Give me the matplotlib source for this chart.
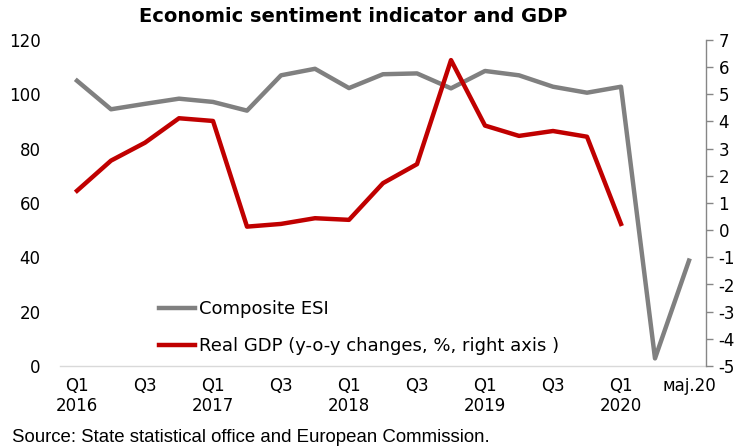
"""Economic sentiment indicator and real GDP, quarterly with monthly 2020 tail."""

import matplotlib.pyplot as plt

# category labels on the x axis (only every second one is shown)
periods = [
    "Q1 2016", "Q2 2016", "Q3 2016", "Q4 2016",
    "Q1 2017", "Q2 2017", "Q3 2017", "Q4 2017",
    "Q1 2018", "Q2 2018", "Q3 2018", "Q4 2018",
    "Q1 2019", "Q2 2019", "Q3 2019", "Q4 2019",
    "Q1 2020", "apr.20", "maj.20",
]
tick_labels = [
    "Q1\n2016", "Q3", "Q1\n2017", "Q3", "Q1\n2018",
    "Q3", "Q1\n2019", "Q3", "Q1\n2020", "\u043c\u0430\u0458.20",
]

# composite ESI (left axis)
esi = [
    105.0, 94.5, 96.5, 98.4, 97.2, 94.0, 107.0, 109.4, 102.3,
    107.4, 107.7, 102.2, 108.6, 107.0, 102.8, 100.6, 102.8, 2.8, 38.8,
]

# real GDP, y-o-y % (right axis), available up to Q1 2020
gdp = [
    1.45, 2.56, 3.22, 4.12, 4.02, 0.13, 0.23, 0.44, 0.38,
    1.73, 2.43, 6.26, 3.85, 3.47, 3.65, 3.44, 0.23,
]

GREY = "#808080"
RED = "#C00000"

plt.rcParams["font.family"] = ["DejaVu Sans"]
plt.rcParams["axes.unicode_minus"] = False

fig = plt.figure(figsize=(7.44, 4.48), dpi=100)
ax = fig.add_axes([60 / 744, 1 - 366 / 448, 646 / 744, 326 / 448])
ax2 = ax.twinx()

x = list(range(len(periods)))
ax.plot(x, esi, color=GREY, linewidth=3.2, label="Composite ESI",
        solid_joinstyle="round")
ax2.plot(x[: len(gdp)], gdp, color=RED, linewidth=3.2,
         label="Real GDP (y-o-y changes, %, right axis )",
         solid_joinstyle="round")

ax.set_xlim(-0.5, len(periods) - 0.5)
ax.set_ylim(0, 120)
ax.set_yticks(range(0, 121, 20))
ax2.set_ylim(-5, 7)
ax2.set_yticks(range(-5, 8))

ax.set_xticks(x[::2])
ax.set_xticklabels(tick_labels, fontsize=12, linespacing=1.15)
ax.tick_params(axis="x", length=0, pad=8)
ax.tick_params(axis="y", length=0, labelsize=12, pad=14)
ax2.tick_params(axis="y", length=5, width=1, color="#868686",
                labelsize=12, pad=4)

for side in ["left", "top", "right"]:
    ax.spines[side].set_visible(False)
ax.spines["bottom"].set_color("#d9d9d9")
ax.spines["bottom"].set_linewidth(1)
for side in ["left", "top", "bottom"]:
    ax2.spines[side].set_visible(False)
ax2.spines["right"].set_color("#868686")
ax2.spines["right"].set_linewidth(1)

lines = ax.get_lines() + ax2.get_lines()
fig.legend(
    lines, [ln.get_label() for ln in lines],
    loc="upper left", bbox_to_anchor=(152 / 744, 1 - 293 / 448),
    frameon=False, fontsize=13, handlelength=2.0, handletextpad=0.2,
    labelspacing=1.05, borderaxespad=0,
)

fig.text(353 / 744, 1 - 16 / 448, "Economic sentiment indicator and GDP",
         ha="center", va="center", fontsize=14, fontweight="bold")
fig.text(12 / 744, 1 - 437 / 448,
         "Source: State statistical office and European Commission.",
         ha="left", va="center", fontsize=13.4, family="Liberation Sans")

fig.savefig("out.png", dpi=100)
